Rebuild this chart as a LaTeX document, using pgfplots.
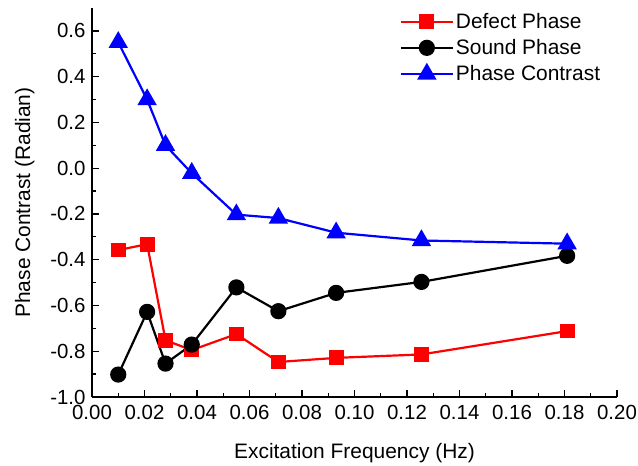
\documentclass[border=0pt]{standalone}
\usepackage{fontspec}
\setmainfont{Liberation Sans}
\usepackage{pgfplots}
\pgfplotsset{compat=1.18}
\begin{document}
\begin{tikzpicture}
\begin{axis}[
  name=ax,
  scale only axis,
  width=525bp, height=389bp,
  xmin=0, xmax=0.2, ymin=-1.0, ymax=0.7,
  axis lines=left,
  axis line style={-, line width=1.3bp},
  tick align=inside,
  major tick length=7bp,
  minor tick length=4bp,
  every tick/.style={black, line width=1.3bp},
  xtick={0,0.02,...,0.201},
  ytick={-1.0,-0.8,...,0.61},
  minor x tick num=1,
  minor y tick num=1,
  /pgf/number format/assume math mode=true,
  tick label style={font=\fontsize{20.5}{24}\selectfont},
  xticklabel style={yshift=-5bp, /pgf/number format/.cd, fixed, fixed zerofill, precision=2},
  yticklabel style={xshift=-3bp, /pgf/number format/.cd, fixed, fixed zerofill, precision=1},
  label style={font=\fontsize{21}{25}\selectfont},
  xlabel={Excitation Frequency (Hz)},
  ylabel={Phase Contrast (Radian)},
  xlabel style={yshift=-17bp},
  ylabel style={yshift=9bp},
  legend style={draw=none, fill=none, at={(0.582,0.997)}, anchor=north west,
    font=\fontsize{21}{25}\selectfont, row sep=5.5bp, inner sep=2bp},
  legend cell align=left,
  legend image code/.code={\draw[mark repeat=2,mark phase=2] plot coordinates {(0bp,0bp) (26bp,0bp) (52bp,0bp)};},
]
\addplot[red, line width=2.2bp, mark=square*, mark size=6.3bp, mark options={solid}] coordinates {
(0.010,-0.358) (0.021,-0.332) (0.028,-0.752) (0.038,-0.795) (0.055,-0.725)
(0.071,-0.847) (0.093,-0.829) (0.1255,-0.814) (0.181,-0.712)};
\addlegendentry{Defect Phase}
\addplot[black, line width=2.2bp, mark=*, mark size=7bp] coordinates {
(0.010,-0.902) (0.021,-0.628) (0.028,-0.854) (0.038,-0.771) (0.055,-0.521)
(0.071,-0.625) (0.093,-0.545) (0.1255,-0.497) (0.181,-0.383)};
\addlegendentry{Sound Phase}
\addplot[blue, line width=2.2bp, mark=triangle*, mark size=9bp] coordinates {
(0.010,0.550) (0.021,0.300) (0.028,0.100) (0.038,-0.022) (0.055,-0.203)
(0.071,-0.218) (0.093,-0.282) (0.1255,-0.316) (0.181,-0.330)};
\addlegendentry{Phase Contrast}
\end{axis}
\pgfresetboundingbox
\path[use as bounding box] ([xshift=-92bp,yshift=-69bp]ax.south west) rectangle ([xshift=21bp,yshift=8bp]ax.north east);
\end{tikzpicture}
\end{document}
